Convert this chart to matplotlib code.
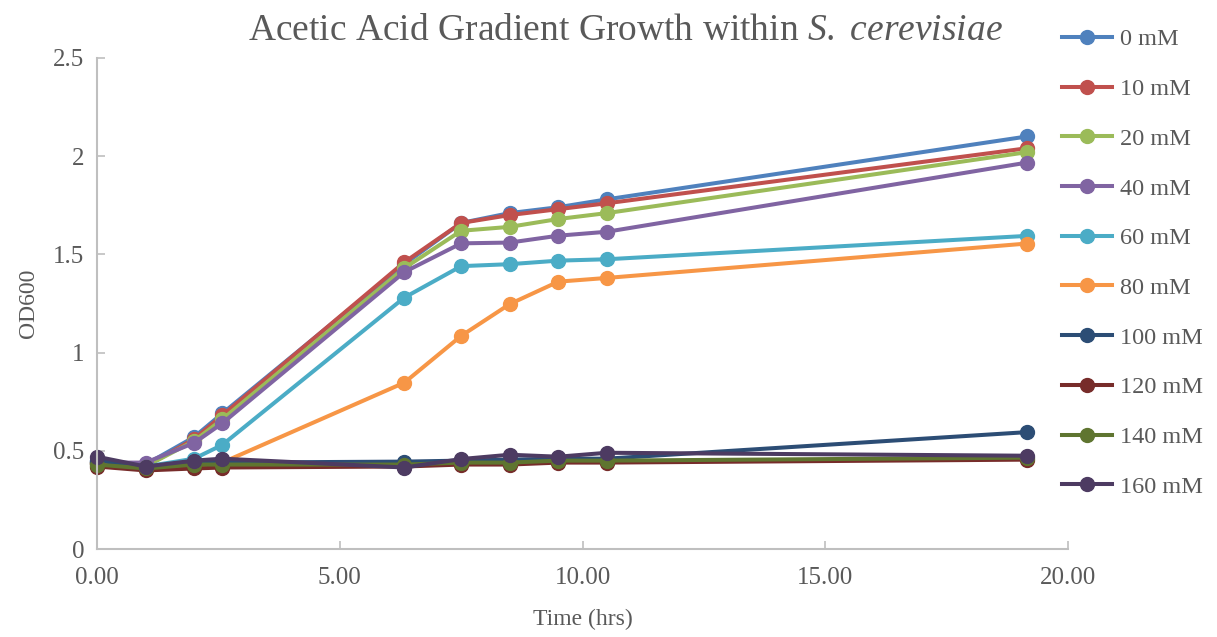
import matplotlib
matplotlib.use('Agg')
import matplotlib.pyplot as plt
from matplotlib.ticker import FormatStrFormatter, MultipleLocator

plt.rcParams['font.family'] = ['Liberation Serif', 'DejaVu Serif']
plt.rcParams['mathtext.fontset'] = 'custom'
plt.rcParams['mathtext.rm'] = 'Liberation Serif'
plt.rcParams['mathtext.it'] = 'Liberation Serif:italic'

# time points (hrs)
hours = [0, 1, 2, 2.58, 6.33, 7.5, 8.5, 9.5, 10.5, 19.15]

labels = ['0 mM', '10 mM', '20 mM', '40 mM', '60 mM', '80 mM',
          '100 mM', '120 mM', '140 mM', '160 mM']

od_0 = [0.45, 0.43, 0.57, 0.69, 1.45, 1.66, 1.71, 1.74, 1.78, 2.10]
od_10 = [0.44, 0.42, 0.56, 0.68, 1.46, 1.66, 1.70, 1.73, 1.76, 2.04]
od_20 = [0.44, 0.42, 0.55, 0.66, 1.43, 1.62, 1.64, 1.68, 1.71, 2.02]
od_40 = [0.44, 0.44, 0.54, 0.64, 1.41, 1.556, 1.56, 1.595, 1.615, 1.967]
od_60 = [0.44, 0.42, 0.46, 0.53, 1.28, 1.44, 1.45, 1.468, 1.475, 1.594]
od_80 = [0.44, 0.42, 0.42, 0.44, 0.847, 1.085, 1.247, 1.361, 1.38, 1.555]
od_100 = [0.45, 0.42, 0.44, 0.44, 0.445, 0.45, 0.455, 0.46, 0.46, 0.595]
od_120 = [0.42, 0.40, 0.41, 0.415, 0.42, 0.43, 0.43, 0.44, 0.44, 0.455]
od_140 = [0.43, 0.41, 0.43, 0.43, 0.43, 0.44, 0.44, 0.45, 0.45, 0.465]
od_160 = [0.47, 0.42, 0.45, 0.46, 0.415, 0.458, 0.48, 0.47, 0.49, 0.475]

series = [od_0, od_10, od_20, od_40, od_60, od_80, od_100, od_120, od_140, od_160]
colors = ['#4F81BD', '#C0504D', '#9BBB59', '#8064A2', '#4BACC6', '#F79646',
          '#2C4D75', '#772C2A', '#5F7530', '#4D3B62']

text_col = '#595959'
axis_col = '#BFBFBF'

fig = plt.figure(figsize=(12.17, 6.37), dpi=100)
ax = fig.add_axes([0.0797, 0.1381, 0.798, 0.771])

for vals, lab, c in zip(series, labels, colors):
    ax.plot(hours, vals, color=c, lw=2.9, marker='o', markersize=10,
            label=lab, clip_on=False)

ax.set_xlim(0, 20)
ax.set_ylim(0, 2.5)
ax.xaxis.set_major_locator(MultipleLocator(5))
ax.xaxis.set_major_formatter(FormatStrFormatter('%.2f'))
ax.set_yticks([0, 0.5, 1, 1.5, 2, 2.5])
ax.set_yticklabels(['0', '0.5', '1', '1.5', '2', '2.5'])

for s in ['top', 'right']:
    ax.spines[s].set_visible(False)
for s in ['left', 'bottom']:
    ax.spines[s].set_color(axis_col)
    ax.spines[s].set_linewidth(1.5)
ax.tick_params(direction='in', length=6, width=1.2, color=axis_col,
               labelcolor=text_col, labelsize=18)
ax.tick_params(axis='x', pad=13)
ax.tick_params(axis='y', pad=9)

ax.set_xlabel('Time (hrs)', fontsize=17, color=text_col, labelpad=14)
ax.set_ylabel('OD600', fontsize=17, color=text_col, labelpad=10)

fig.text(0.514, 0.952, r'Acetic Acid Gradient Growth within $\mathit{S.\ cerevisiae}$',
         ha='center', va='center', fontsize=27, color=text_col)

leg = ax.legend(loc='upper left', bbox_to_anchor=(0.984, 1.08), frameon=False,
                fontsize=17.5, handlelength=2.06, handletextpad=0.33,
                labelspacing=1.14, borderaxespad=0)
for t in leg.get_texts():
    t.set_color(text_col)

fig.savefig('out.png', dpi=100)
